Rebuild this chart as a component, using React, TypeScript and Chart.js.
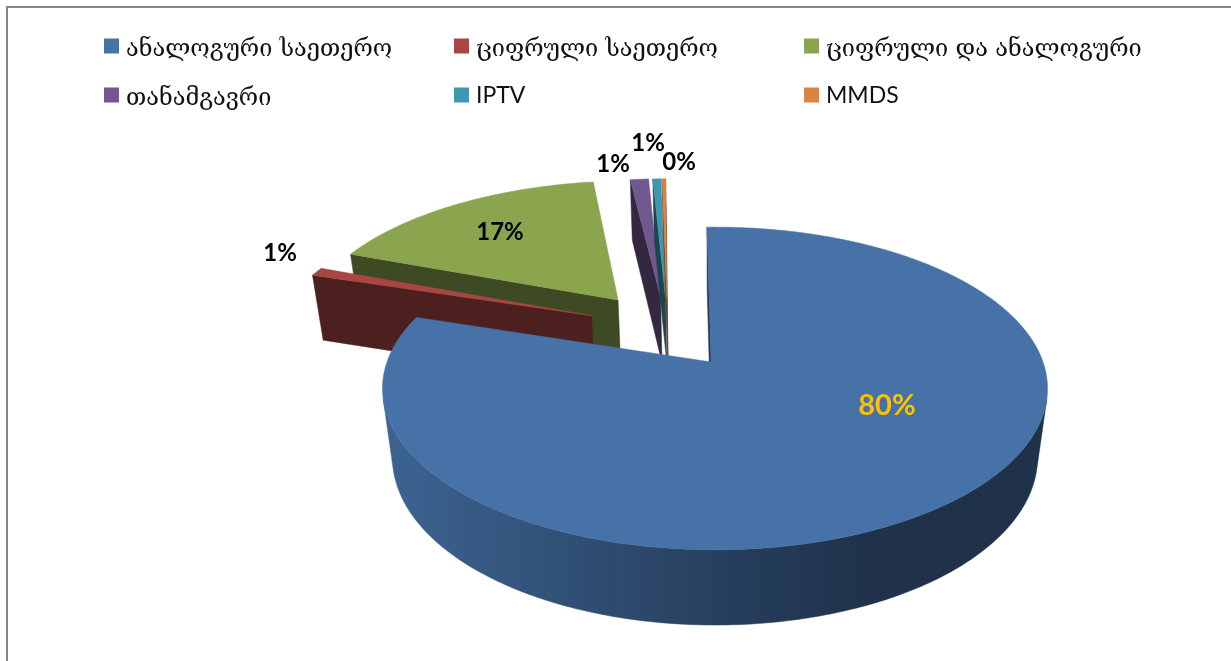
import React, { useEffect, useRef } from "react";
import { Chart, registerables } from "chart.js";

Chart.register(...registerables);

// ---- data ----
const categories = [
  "ანალოგური საეთერო",
  "ციფრული საეთერო",
  "ციფრული და ანალოგური",
  "თანამგავრი",
  "IPTV",
  "MMDS",
];
const shares = [80.27, 0.9, 17.03, 1.1, 0.5, 0.2];
const sliceColors = ["#4672A8", "#A94643", "#8AA54E", "#71588F", "#4098B0", "#DB843D"];

// ---- presentation ----
const WIDTH = 1231;
const HEIGHT = 661;
// where each slice was pulled out to, in units of the pie radius
const rimPullU = [0, -0.395, -0.316, -0.178, -0.162, -0.158];
const rimPullV = [0, -0.31, -0.4225, -0.444, -0.444, -0.444];
const apexPullU = [-0.012, -0.395, -0.316, -0.178, -0.162, -0.158];
const paintOrder = [2, 3, 4, 5, 1, 0];
const labelCenters: [number, number, number, string][] = [
  [887, 406, 29, "#FFC000"],
  [280, 253, 24, "#000"],
  [500, 232, 24, "#000"],
  [613, 164, 24, "#000"],
  [648, 143, 24, "#000"],
  [679, 162, 24, "#000"],
];
const legendColumns = [104, 454, 804];
const legendRows = [46, 95];
const georgianFont = '23.5px "DejaVu Serif"';
const latinFont = '23px Lato';

// perspective of the pie
const X0 = 715, Y0 = 362, RX = 328, RY = 157, KV = -0.164, KT = 0.03, DEPTH = 70.8;
function project(u: number, v: number, t: number): [number, number] {
  const w = 1 / (1 + KV * v + KT * t);
  return [X0 + RX * u * w, Y0 + (RY * v + DEPTH * t) * w];
}

function shade(hex: string, f: number) {
  const n = parseInt(hex.slice(1), 16);
  const c = [(n >> 16) & 255, (n >> 8) & 255, n & 255].map((x) => Math.round(x * f));
  return `rgb(${c[0]},${c[1]},${c[2]})`;
}
function outerShade(u: number) {
  if (u < 0) return 0.56 + -u * 0.32;
  if (u < 0.45) return 0.56 - (u / 0.45) * 0.12;
  return 0.44;
}
function fillPoly(ctx: CanvasRenderingContext2D, pts: [number, number][], color: any, seam = 0.5) {
  ctx.beginPath();
  pts.forEach((p, i) => (i ? ctx.lineTo(p[0], p[1]) : ctx.moveTo(p[0], p[1])));
  ctx.closePath();
  ctx.fillStyle = color;
  ctx.fill();
  if (seam > 0) {
    ctx.strokeStyle = color;
    ctx.lineWidth = seam;
    ctx.stroke();
  }
}
function area(p: [number, number][]) {
  let s = 0;
  p.forEach((a, i) => {
    const b = p[(i + 1) % p.length];
    s += a[0] * b[1] - b[0] * a[1];
  });
  return s;
}

const piePerspective = {
  id: "piePerspective",
  beforeDraw(chart: any) {
    const ctx: CanvasRenderingContext2D = chart.ctx;
    ctx.save();
    ctx.fillStyle = "#fff";
    ctx.fillRect(0, 0, WIDTH, HEIGHT);
    ctx.strokeStyle = "#868686";
    ctx.lineWidth = 2;
    ctx.beginPath();
    ctx.moveTo(7, HEIGHT);
    ctx.lineTo(7, 7);
    ctx.lineTo(WIDTH, 7);
    ctx.stroke();
    ctx.restore();
  },
  beforeDatasetDraw(chart: any) {
    const ctx: CanvasRenderingContext2D = chart.ctx;
    const arcs = chart.getDatasetMeta(0).data;
    ctx.save();
    paintOrder.forEach((i) => {
      const el = arcs[i];
      const color = sliceColors[i];
      const a0 = el.startAngle + Math.PI / 2;
      const a1 = el.endAngle + Math.PI / 2;
      const steps = Math.max(2, Math.ceil((a1 - a0) / (Math.PI / 240)));
      const rim: [number, number, number][] = [];
      for (let s = 0; s <= steps; s++) {
        const a = a0 + ((a1 - a0) * s) / steps;
        rim.push([rimPullU[i] + Math.sin(a), rimPullV[i] - Math.cos(a), Math.sin(a)]);
      }
      const apex: [number, number] = [apexPullU[i], rimPullV[i]];
      const first = rim[0];
      const last = rim[rim.length - 1];
      const quad = (a: number[], b: number[]): [number, number][] => [
        project(a[0], a[1], 0),
        project(b[0], b[1], 0),
        project(b[0], b[1], 1),
        project(a[0], a[1], 1),
      ];
      const flat = shade(color, 0.45);
      const q1 = quad(apex, first);
      if (area(q1) < 0) fillPoly(ctx, q1, flat);
      const q2 = quad(last, apex);
      if (area(q2) < 0) fillPoly(ctx, q2, flat);

      // curved outer wall: one polygon per front-facing run, shaded left to right
      const grad = ctx.createLinearGradient(X0 - 340, 0, X0 + 340, 0);
      for (let k = 0; k <= 40; k++) {
        const u = -1 + k / 20;
        grad.addColorStop(k / 40, shade(color, outerShade(u)));
      }
      let run: [number, number, number][] = [];
      const flush = () => {
        if (run.length > 1) {
          const poly: [number, number][] = run.map((r) => project(r[0], r[1], 0));
          for (let k = run.length - 1; k >= 0; k--) poly.push(project(run[k][0], run[k][1], 1));
          fillPoly(ctx, poly, grad);
        }
        run = [];
      };
      for (let s = 0; s < rim.length - 1; s++) {
        if (area(quad(rim[s], rim[s + 1])) < 0) {
          if (!run.length) run.push(rim[s]);
          run.push(rim[s + 1]);
        } else flush();
      }
      flush();

      const top: [number, number][] = [project(apex[0], apex[1], 0)];
      rim.forEach((r) => top.push(project(r[0], r[1], 0)));
      fillPoly(ctx, top, color);
    });
    ctx.restore();
    return false;
  },
  afterDraw(chart: any) {
    const ctx: CanvasRenderingContext2D = chart.ctx;
    const labels: string[] = chart.data.labels;
    const values: number[] = chart.data.datasets[0].data;
    ctx.save();
    ctx.textBaseline = "middle";
    ctx.textAlign = "left";
    labels.forEach((label, i) => {
      const x = legendColumns[i % 3];
      const y = legendRows[Math.floor(i / 3)];
      ctx.fillStyle = sliceColors[i];
      ctx.fillRect(x, y - 7.5, 15, 15);
      ctx.fillStyle = "#111";
      const latin = /[A-Z]/.test(label);
      ctx.font = latin ? latinFont : georgianFont;
      ctx.fillText(label, x + 22, latin ? y + 1 : y + 4);
    });
    ctx.textAlign = "center";
    values.forEach((v, i) => {
      const [x, y, size, color] = labelCenters[i];
      ctx.font = `bold ${size}px Lato`;
      ctx.fillStyle = color;
      ctx.fillText(`${Math.round(v)}%`, x, y);
    });
    ctx.restore();
  },
};

export default function App() {
  const ref = useRef<HTMLCanvasElement>(null);
  useEffect(() => {
    const chart = new Chart(ref.current as HTMLCanvasElement, {
      type: "pie",
      data: {
        labels: categories,
        datasets: [{ data: shares, backgroundColor: sliceColors, borderWidth: 0 }],
      },
      options: {
        animation: false,
        responsive: false,
        rotation: -1.63,
        events: [],
        plugins: { legend: { display: false }, tooltip: { enabled: false }, title: { display: false } },
      },
      plugins: [piePerspective],
    } as any);
    return () => chart.destroy();
  }, []);
  return (
    <div style={{ position: "fixed", left: 0, top: 0, width: WIDTH, height: HEIGHT }}>
      <canvas ref={ref} width={WIDTH} height={HEIGHT} style={{ display: "block" }} />
    </div>
  );
}
